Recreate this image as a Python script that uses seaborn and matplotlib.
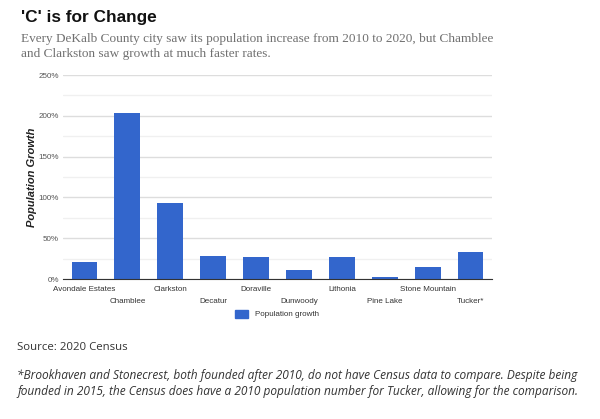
import matplotlib
matplotlib.use("Agg")
import matplotlib.pyplot as plt
import seaborn as sns
import pandas as pd
from matplotlib.patches import Rectangle
from matplotlib.ticker import MultipleLocator, FuncFormatter

cities = ["Avondale Estates", "Chamblee", "Clarkston", "Decatur", "Doraville",
          "Dunwoody", "Lithonia", "Pine Lake", "Stone Mountain", "Tucker*"]
growth = [21, 204, 93.5, 28, 27.5, 11, 27, 2, 15, 33]
series_name = "Population growth"

title = "'C' is for Change"
subtitle_lines = ["Every DeKalb County city saw its population increase from 2010 to 2020, but Chamblee",
                  "and Clarkston saw growth at much faster rates."]
source = "Source: 2020 Census"
footnote_lines = ["*Brookhaven and Stonecrest, both founded after 2010, do not have Census data to compare. Despite being",
                  "founded in 2015, the Census does have a 2010 population number for Tucker, allowing for the comparison."]

sns.set_theme(style="white")
plt.rcParams['font.family'] = ['Liberation Sans', 'DejaVu Sans']

W, H = 600, 419
fig = plt.figure(figsize=(W / 100, H / 100), dpi=100)
fig.patch.set_facecolor("white")

ax = fig.add_axes([63 / W, 1 - 279 / H, 429 / W, 204 / H])
df = pd.DataFrame({"city": cities, "growth": growth})
sns.barplot(data=df, x="city", y="growth", color="#3366CC", width=0.6, ax=ax,
            saturation=1, edgecolor="none")

ax.set_ylim(0, 250)
ax.set_xlim(-0.5, len(cities) - 0.5)
ax.yaxis.set_major_locator(MultipleLocator(50))
ax.yaxis.set_minor_locator(MultipleLocator(25))
ax.yaxis.set_major_formatter(FuncFormatter(lambda v, p: f"{int(v)}%"))
ax.grid(axis="y", which="major", color="#dddddd", linewidth=1)
ax.grid(axis="y", which="minor", color="#f0f0f0", linewidth=1)
ax.set_axisbelow(True)
for s in ["top", "right", "left"]:
    ax.spines[s].set_visible(False)
ax.spines["bottom"].set_color("#333333")
ax.spines["bottom"].set_linewidth(0.8)
ax.tick_params(axis="both", which="both", length=0, labelsize=5.8, colors="#555555")
ax.tick_params(axis="y", pad=3)

even = list(range(0, len(cities), 2))
odd = list(range(1, len(cities), 2))
ax.set_xticks(even, [cities[i] for i in even])
ax.set_xticks(odd, [cities[i] for i in odd], minor=True)
ax.tick_params(axis="x", which="major", pad=5.2, labelcolor="#333333")
ax.tick_params(axis="x", which="minor", pad=13.6, labelcolor="#333333")
ax.set_xlabel("")
ax.set_ylabel("")
fig.text(32 / W, 1 - 177 / H, "Population Growth", fontsize=8, fontweight="bold",
         fontstyle="italic", color="#222222", rotation=90, ha="center", va="center")

# legend
fig.patches.append(Rectangle((235 / W, 1 - 318 / H), 13 / W, 8 / H,
                             transform=fig.transFigure, color="#3366CC", figure=fig))
fig.text(255 / W, 1 - 314 / H, series_name, fontsize=5.8, color="#333333", va="center")

fig.text(21 / W, 1 - 17.5 / H, title, fontsize=12.4, fontweight="bold", color="#111111", va="center")
for k, line in enumerate(subtitle_lines):
    fig.text(21 / W, 1 - (39 + 15 * k) / H, line, fontsize=9.5, family=["Liberation Serif"],
             color="#707070", va="center")
fig.text(17 / W, 1 - 347 / H, source, fontsize=8.2, family=["Open Sans"], color="#333333", va="center")
for k, line in enumerate(footnote_lines):
    fig.text(17 / W, 1 - (375 + 16 * k) / H, line, fontsize=8.6, family=["Open Sans"],
             fontstyle="italic", color="#333333", va="center")

fig.savefig("out.png", dpi=100, facecolor="white")
